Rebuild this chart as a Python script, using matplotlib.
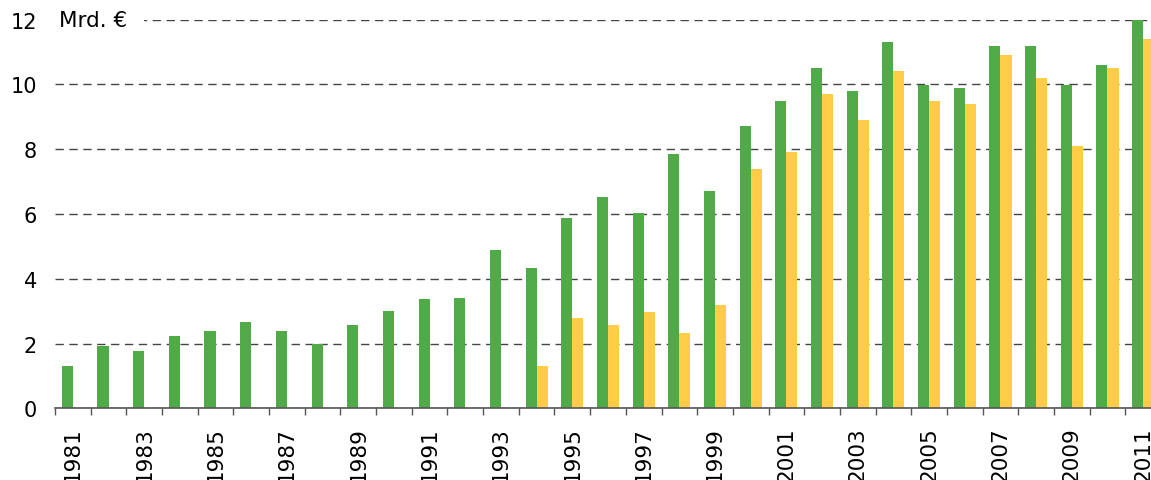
import matplotlib
matplotlib.use("Agg")
import matplotlib.pyplot as plt
import numpy as np

years = list(range(1981, 2012))
green = [1.31, 1.92, 1.76, 2.23, 2.38, 2.66, 2.38, 1.98, 2.57, 3.0,
         3.38, 3.41, 4.89, 4.33, 5.88, 6.53, 6.04, 7.85, 6.71, 8.72,
         9.49, 10.51, 9.80, 11.31, 9.98, 9.89, 11.19, 11.19, 9.98, 10.61,
         12.0]
yellow = [0, 0, 0, 0, 0, 0, 0, 0, 0, 0,
          0, 0, 0, 1.31, 2.79, 2.57, 2.97, 2.32, 3.19, 7.39,
          7.92, 9.71, 8.90, 10.42, 9.49, 9.40, 10.91, 10.20, 8.10, 10.51,
          11.41]
unit_label = "Mrd. €"

green_col = "#50AA48"
yellow_col = "#FFCC48"

fig = plt.figure(figsize=(11.51, 4.81), dpi=100)
ax = fig.add_axes([55 / 1151, 1 - 409.3 / 481, 1 - 55 / 1151, (409.3 - 20.7) / 481])

x = np.arange(len(years))
w = 0.31
ax.bar(x - w / 2, green, width=w, color=green_col, zorder=3)
ax.bar(x + w / 2, yellow, width=w, color=yellow_col, zorder=3)

ax.set_yticks(range(0, 13, 2))
ax.tick_params(axis="y", length=0, pad=13, labelsize=15)

ax.set_xticks(x[::2])
ax.set_xticklabels([str(y) for y in years[::2]], rotation=90, va="top")
ax.set_xticks(np.arange(-0.5, len(years) + 0.5, 1), minor=True)
ax.tick_params(axis="x", which="major", length=0, pad=13, labelsize=15.5)
ax.tick_params(axis="x", which="minor", length=5, color="#555555", width=1)

# limits after the ticks, otherwise set_xticks widens them
ax.set_ylim(0, 12)
ax.set_xlim(-0.5, len(years) - 0.5 - 10 / 35.68)

ax.grid(axis="y", linestyle=(0, (6, 4)), color="#444444", linewidth=1, zorder=0)
for s in ["top", "right", "left"]:
    ax.spines[s].set_visible(False)
ax.spines["bottom"].set_color("#555555")
ax.spines["bottom"].set_linewidth(1.2)
ax.spines["bottom"].set_zorder(4)

ax.text(0.0035, 12, unit_label, transform=ax.get_yaxis_transform(),
        fontsize=15.5, va="center", ha="left", zorder=5,
        bbox=dict(facecolor="white", edgecolor="none", pad=12))

fig.savefig("out.png", dpi=100)
